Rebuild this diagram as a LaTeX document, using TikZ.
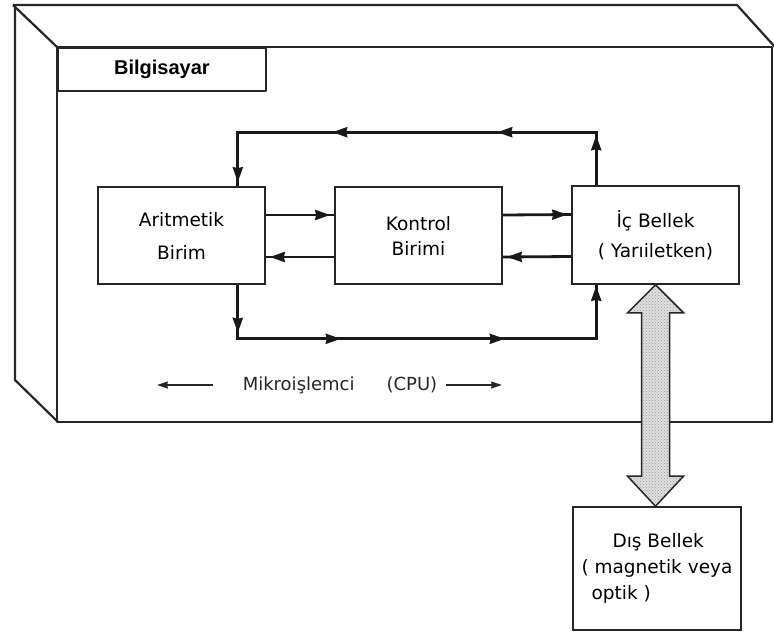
\documentclass[tikz,border=0pt]{standalone}
\usepackage{fontspec}
\setmainfont{DejaVu Sans}
\newfontfamily\labelfont{Liberation Sans}
\usetikzlibrary{arrows.meta,calc,decorations.markings,patterns}
\begin{document}
\begin{tikzpicture}[x=1pt,y=-1pt,
  frame/.style={draw=black!85, line width=2.2pt, line join=round},
  unit/.style={draw=black!85, line width=1.6pt, inner sep=0pt, align=center, text=black},
  flow/.style={draw=black!90, line width=2.8pt},
  endtip/.style={decoration={markings, mark=at position -4pt with {\arrow{Stealth[length=15pt,width=10pt,inset=1pt]}}}, postaction=decorate},
  thinarrow/.style={draw=black!85, line width=1.2pt, -{Stealth[length=11pt,width=7pt,inset=1pt]}},
  bigarrow/.style={draw=black!85, line width=1.5pt, line join=miter, preaction={fill=gray!25}, pattern=crosshatch dots, pattern color=gray!80}
]
\useasboundingbox (0,0) rectangle (774,633);
\fill[white] (0,0) rectangle (774,633);

% 3D computer frame
\draw[frame] (13,5) -- (737,5) -- (775,47);
\draw[frame] (13,5) -- (57,47);
\draw[frame] (15,5) -- (15,380) -- (58,422);
\draw[frame] (57,47) rectangle (772,422);

\node[frame, line width=1.8pt, minimum width=208pt, minimum height=43pt, inner sep=0pt, anchor=north west,
      font=\labelfont\bfseries\fontsize{20}{24}\selectfont] (bil) at (57,47) {Bilgisayar};

% units
\node[unit, minimum width=167pt, minimum height=97pt, font=\fontsize{18.5}{33}\selectfont] (ar) at (181.5,235.5) {Aritmetik\\Birim};
\node[unit, minimum width=167pt, minimum height=97pt, font=\fontsize{18.5}{25}\selectfont] (ko) at (418.5,235.5) {Kontrol\\Birimi};
\node[unit, minimum width=167pt, minimum height=98pt, font=\fontsize{18.5}{30}\selectfont] (ic) at (655.5,235) {İç Bellek\\( Yarıiletken)};
\node[unit, minimum width=168pt, minimum height=123pt, align=left, font=\fontsize{18.5}{26}\selectfont] (dis) at (657,568.5) {\hspace*{31pt}Dış Bellek\\( magnetik veya\\\hspace*{10pt}optik )};

% horizontal flows
\draw[flow, endtip] ([yshift=20.5pt]ar.east) -- ([yshift=20.5pt]ko.west);
\draw[flow, endtip] ([yshift=-21.5pt]ko.west) -- ([yshift=-21.5pt]ar.east);
\draw[flow, endtip] ([yshift=20.5pt]ko.east) -- ([yshift=20.5pt]ic.west);
\draw[flow, endtip] ([yshift=-21.5pt]ic.west) -- ([yshift=-21.5pt]ko.east);

% top loop
\draw[flow, line join=miter, decoration={markings,
    mark=at position 50pt with {\arrow{Stealth[length=15pt,width=10pt,inset=1pt]}},
    mark=at position 152pt with {\arrow{Stealth[length=15pt,width=10pt,inset=1pt]}},
    mark=at position 317pt with {\arrow{Stealth[length=15pt,width=10pt,inset=1pt]}},
    mark=at position -4pt with {\arrow{Stealth[length=15pt,width=10pt,inset=1pt]}}}, postaction=decorate]
  ([xshift=25pt]ic.north west) -- ++(0,-53) -| ([xshift=-28pt]ar.north east);

% bottom loop
\draw[flow, line join=miter, decoration={markings,
    mark=at position 48pt with {\arrow{Stealth[length=15pt,width=10pt,inset=1pt]}},
    mark=at position 157pt with {\arrow{Stealth[length=15pt,width=10pt,inset=1pt]}},
    mark=at position 321pt with {\arrow{Stealth[length=15pt,width=10pt,inset=1pt]}},
    mark=at position -1pt with {\arrow{Stealth[length=15pt,width=10pt,inset=1pt]}}}, postaction=decorate]
  ([xshift=-28pt]ar.south east) -- ++(0,54) -| ([xshift=25pt]ic.south west);

% CPU label
\node[inner sep=0pt, text=black!85, font=\fontsize{18}{22}\selectfont] (cpu) at (340,385) {Mikroişlemci\hspace{32pt}(CPU)};
\coordinate (cpuL) at (157,385);
\coordinate (cpuR) at (502,385);
\draw[thinarrow] ([xshift=-30pt]cpu.west) -- (cpuL);
\draw[thinarrow] ([xshift=9pt]cpu.east) -- (cpuR);

% double arrow between memories
\coordinate (bt) at (ic.south |- dis.north);
\draw[bigarrow] (ic.south) -- ($(ic.south)+(28,28)$) -- ($(ic.south)+(14,28)$)
  -- ($(bt)+(14,-30)$) -- ($(bt)+(28,-30)$) -- (bt) -- ($(bt)+(-28,-30)$)
  -- ($(bt)+(-14,-30)$) -- ($(ic.south)+(-14,28)$) -- ($(ic.south)+(-28,28)$) -- cycle;
\end{tikzpicture}
\end{document}
